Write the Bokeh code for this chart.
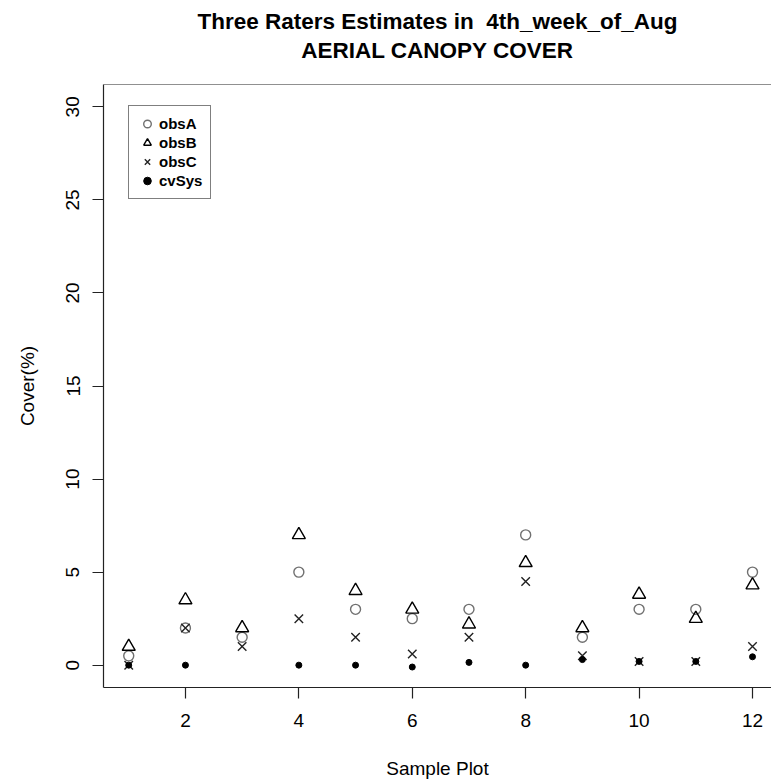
import numpy as np
from bokeh.plotting import figure
from bokeh.models import Range1d, FixedTicker, Title, Legend, LegendItem, Span
from bokeh.embed import file_html
from bokeh.resources import INLINE

# ---- data ----
plots = [1, 2, 3, 4, 5, 6, 7, 8, 9, 10, 11, 12]
obsA = [0.5, 2.0, 1.5, 5.0, 3.0, 2.5, 3.0, 7.0, 1.5, 3.0, 3.0, 5.0]
obsB = [1.0, 3.5, 2.0, 7.0, 4.0, 3.0, 2.2, 5.5, 2.0, 3.8, 2.5, 4.3]
obsC = [0.0, 2.0, 1.0, 2.5, 1.5, 0.6, 1.5, 4.5, 0.5, 0.2, 0.2, 1.0]
cvSys = [0.0, 0.0, np.nan, 0.0, 0.0, -0.1, 0.15, 0.0, 0.3, 0.2, 0.2, 0.45]
x_ticks = [2, 4, 6, 8, 10, 12]
y_ticks = [0, 5, 10, 15, 20, 25, 30]
title1 = "Three Raters Estimates in \u00a04th_week_of_Aug"
title2 = "AERIAL CANOPY COVER"

FONT = "Liberation Sans"

p = figure(width=771, height=782, output_backend="svg", toolbar_location=None,
           x_range=Range1d(0.555, 12.335), y_range=Range1d(-1.2, 31.2),
           min_border_left=103, min_border_right=0, min_border_bottom=95,
           min_border_top=84)

p.outline_line_color = None
p.xgrid.visible = False
p.ygrid.visible = False
p.background_fill_color = "white"
p.border_fill_color = "white"

# spacer between plot box and titles, then the two title lines
p.add_layout(Title(text=" ", text_font=FONT, text_font_size="1px", standoff=19), "above")
p.add_layout(Title(text=title2, text_font=FONT, text_font_size="22.5px",
                   text_font_style="bold", align="center", text_color="black",
                   standoff=0), "above")
p.add_layout(Title(text=title1, text_font=FONT, text_font_size="22.5px",
                   text_font_style="bold", align="center", text_color="black",
                   standoff=4), "above")

# top border of box
p.add_layout(Span(location=31.2, dimension="width", line_color="#222222", line_width=1.2))

for ax in (p.xaxis[0], p.yaxis[0]):
    ax.axis_line_color = "#222222"
    ax.axis_line_width = 1.2
    ax.major_tick_line_color = "#222222"
    ax.major_tick_line_width = 1.2
    ax.major_tick_in = 0
    ax.major_tick_out = 11
    ax.minor_tick_line_color = None
    ax.major_label_text_font = FONT
    ax.major_label_text_font_size = "19px"
    ax.major_label_text_color = "black"
    ax.axis_label_text_font = FONT
    ax.axis_label_text_font_size = "19px"
    ax.axis_label_text_font_style = "normal"
    ax.axis_label_text_color = "black"

p.xaxis[0].ticker = FixedTicker(ticks=x_ticks)
p.yaxis[0].ticker = FixedTicker(ticks=y_ticks)
p.xaxis[0].axis_label = "Sample Plot"
p.yaxis[0].axis_label = "Cover(%)"
p.xaxis[0].major_label_standoff = 15
p.xaxis[0].axis_label_standoff = 28
p.yaxis[0].major_label_orientation = "vertical"
p.yaxis[0].major_label_standoff = 13
p.yaxis[0].axis_label_standoff = 26

rA = p.scatter(plots, obsA, marker="circle", size=10, fill_color=None,
               line_color="#707070", line_width=1.4)
rB = p.scatter(plots, obsB, marker="triangle", size=13, fill_color=None,
               line_color="black", line_width=1.4)
rC = p.scatter(plots, obsC, marker="x", size=12, line_color="#222222", line_width=1.4)
rD = p.scatter(plots, cvSys, marker="circle", size=6, fill_color="black",
               line_color="black")

legend = Legend(items=[LegendItem(label="obsA", renderers=[rA]),
                       LegendItem(label="obsB", renderers=[rB]),
                       LegendItem(label="obsC", renderers=[rC]),
                       LegendItem(label="cvSys", renderers=[rD])],
                location=(25, 488))
legend.label_text_font = FONT
legend.label_text_font_size = "15px"
legend.label_text_font_style = "bold"
legend.label_text_color = "black"
legend.glyph_height = 19
legend.glyph_width = 20
legend.label_height = 16
legend.spacing = 0
legend.padding = 8
legend.margin = 0
legend.label_standoff = 2
legend.border_line_color = "black"
legend.border_line_width = 1.2
legend.background_fill_alpha = 1
p.add_layout(legend)

open("out.html", "w").write(file_html(p, INLINE))
